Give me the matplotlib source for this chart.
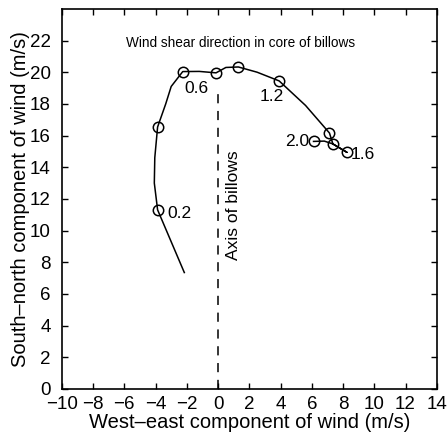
import matplotlib
matplotlib.use("Agg")
import matplotlib.pyplot as plt

plt.rcParams["font.family"] = ["Liberation Sans", "DejaVu Sans"]

# hodograph trace (west-east, south-north) in m/s
u_line = [-2.16, -3.87, -4.08, -4.05, -3.87, -3.35, -3.0, -2.26, -1.2, -0.13,
          0.5, 1.3, 2.5, 3.91, 5.6, 7.13, 7.35, 8.25, 7.35, 6.8, 6.11]
v_line = [7.35, 11.31, 13.0, 14.6, 16.54, 18.0, 19.1, 20.04, 20.05, 19.96,
          20.3, 20.33, 20.0, 19.45, 17.9, 16.16, 15.47, 14.94, 15.47, 15.65, 15.63]

# circled heights
u_pts = [-3.87, -3.87, -2.26, -0.13, 1.3, 3.91, 7.13, 7.35, 8.25, 6.11]
v_pts = [11.31, 16.54, 20.04, 19.96, 20.33, 19.45, 16.16, 15.47, 14.94, 15.63]

labels = ["0.2", "0.6", "1.2", "1.6", "2.0"]
label_x = [-3.25, -1.4, 3.45, 8.5, 5.85]
label_y = [11.05, 18.95, 18.45, 14.8, 15.63]
label_ha = ["left", "center", "center", "left", "right"]

fig = plt.figure(figsize=(4.48, 4.43), dpi=100)
ax = fig.add_axes([0.138, 0.122, 0.837, 0.858])

ax.plot(u_line, v_line, color="black", lw=1.1)
ax.plot(u_pts, v_pts, "o", mfc="none", mec="black", ms=7.5, mew=1.1)
ax.plot([0, 0], [0, 18.9], color="black", lw=1.1, ls=(0, (6, 5)))

for t, x, y, ha in zip(labels, label_x, label_y, label_ha):
    ax.text(x, y, t, fontsize=12.5, ha=ha, va="center")

ax.text(1.45, 21.85, "Wind shear direction in core of billows", fontsize=9.8,
        ha="center", va="center")
ax.text(1.0, 11.6, "Axis of billows", fontsize=12.5, rotation=90,
        ha="center", va="center")

ax.set_xlim(-10, 14)
ax.set_ylim(0, 24)
ax.set_xticks(range(-10, 15, 2))
ax.set_yticks(range(0, 23, 2))
ax.tick_params(direction="in", top=True, right=True, labelsize=13.5, length=4,
               width=1.0)
ax.tick_params(axis="x", pad=5)
ax.tick_params(axis="y", pad=8)
ax.set_xlabel("West\u2013east component of wind (m/s)", fontsize=14.5, labelpad=0)
ax.set_ylabel("South\u2013north component of wind (m/s)", fontsize=14.5, labelpad=0)
for s in ax.spines.values():
    s.set_linewidth(1.2)

fig.savefig("out.png", dpi=100)
